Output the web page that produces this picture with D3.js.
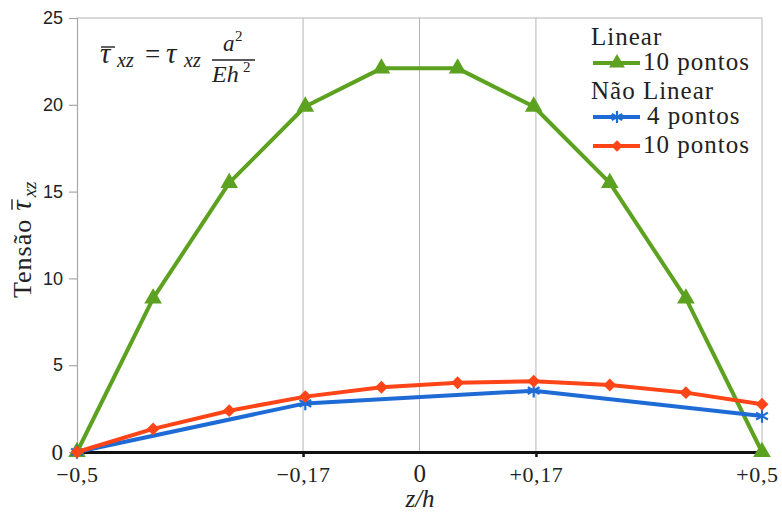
<!DOCTYPE html>
<html>
<head>
<meta charset="utf-8">
<script src="https://cdn.jsdelivr.net/npm/d3@7"></script>
</head>
<body style="margin:0">
<svg id="chart" width="782" height="516" style="display:block;background:#fff"></svg>
<script>
// Normalised thickness coordinate z/h
const zLinear10 = [-0.5, -0.3889, -0.2778, -0.1667, -0.0556, 0.0556, 0.1667, 0.2778, 0.3889, 0.5];
const zNonLinear4 = [-0.5, -0.1667, 0.1667, 0.5];
const zNonLinear10 = zLinear10;

// Shear stress values
const tauLinear10 = [0, 8.85, 15.5, 19.9, 22.1, 22.1, 19.9, 15.5, 8.85, 0];
const tauNonLinear4 = [0, 2.8, 3.53, 2.07];
const tauNonLinear10 = [0, 1.33, 2.38, 3.19, 3.73, 3.99, 4.08, 3.86, 3.42, 2.75];

// Axis ticks
const xTickValues = [-0.5, -0.17, 0, 0.17, 0.5];
const xTickLabels = ["\u22120,5", "\u22120,17", "0", "+0,17", "+0,5"];
const yTickValues = [0, 5, 10, 15, 20, 25];
const gridValues = [-0.17, 0, 0.17, 0.5];

const colors = { green: "#5ca11f", blue: "#1e6bd6", orange: "#ff4517" };
const fontNames = ["Liberation Serif", "Liberation Sans"];
const SERIF = `"${fontNames[0]}"`;
const SANS = `"${fontNames[1]}"`;

const svg = d3.select("#chart");
const x = d3.scaleLinear().domain([-0.5, 0.5]).range([77, 762]);
const y = d3.scaleLinear().domain([0, 25]).range([452, 18]);

// Text helper with explicit typography
function label(parent, px, py, str, size, opts = {}) {
  return parent.append("text").attr("x", px).attr("y", py)
    .style("font-family", opts.sans ? SANS : SERIF)
    .style("font-size", size + "px")
    .style("font-style", opts.italic ? "italic" : "normal")
    .style("letter-spacing", (opts.spacing || 0) + "px")
    .attr("fill", "#222")
    .attr("text-anchor", opts.anchor || "start")
    .text(str);
}

// Grid lines and frame
svg.append("g").selectAll("line").data(gridValues).join("line")
  .attr("x1", d => x(d)).attr("x2", d => x(d))
  .attr("y1", y(25)).attr("y2", y(0))
  .attr("stroke", "#b4b4b4").attr("stroke-width", 1);
svg.append("line")
  .attr("x1", x(-0.5)).attr("x2", x(0.5)).attr("y1", y(25)).attr("y2", y(25))
  .attr("stroke", "#b4b4b4").attr("stroke-width", 1);

// Left axis
const yAxis = d3.axisLeft(y).tickValues(yTickValues).tickSize(8).tickPadding(6)
  .tickFormat(d3.format("d"));
const gy = svg.append("g").attr("transform", `translate(${x(-0.5)},0)`).call(yAxis);
gy.select(".domain").attr("stroke", "#a8a8a8").attr("stroke-width", 1.2);
gy.selectAll(".tick line").attr("stroke", "#a8a8a8").attr("stroke-width", 1.2);
gy.selectAll(".tick text")
  .style("font-family", d => d === 0 ? SERIF : SANS)
  .style("font-size", d => d === 0 ? "23px" : "18px")
  .attr("fill", "#222");
gy.selectAll(".tick").filter(d => d === 0).select("line").remove();

// Bottom axis
const xAxis = d3.axisBottom(x).tickValues(xTickValues).tickSize(5)
  .tickFormat((d, i) => xTickLabels[i]);
const gx = svg.append("g").attr("transform", `translate(0,${y(0)})`).call(xAxis);
gx.select(".domain").attr("stroke", "#111").attr("stroke-width", 3);
gx.selectAll(".tick line")
  .attr("stroke", d => (d === -0.17 || d === 0.17) ? "#111" : "none")
  .attr("stroke-width", 2.5);
gx.selectAll(".tick text")
  .attr("y", 30).attr("dy", null)
  .attr("x", d => d === 0.5 ? -5 : 0)
  .style("font-family", SERIF).style("font-size", d => d === 0 ? "25px" : "22px")
  .style("letter-spacing", "0.6px")
  .attr("fill", "#222");

// Axis titles
label(svg, 420, 507, "z/h", 25, { italic: true, anchor: "middle" });

const yTitle = svg.append("g").attr("transform", "translate(31,298) rotate(-90)");
const yt = yTitle.append("text").attr("fill", "#222")
  .style("font-family", SERIF).style("font-size", "26px");
yt.append("tspan").style("letter-spacing", "1px").text("Tensão");
yt.append("tspan").attr("dx", 8).style("font-style", "italic").style("font-size", "29px").text("τ");
yt.append("tspan").attr("dx", 3).attr("dy", 5).style("font-style", "italic").style("font-size", "19px").text("xz");
{
  const node = yt.node();
  const i = "Tensão".length;
  const p0 = node.getStartPositionOfChar(i);
  const p1 = node.getEndPositionOfChar(i);
  yTitle.append("line").attr("x1", p0.x + 1).attr("x2", p1.x + 1)
    .attr("y1", -19).attr("y2", -19).attr("stroke", "#222").attr("stroke-width", 1.4);
}

// Formula annotation
const f = svg.append("g");
label(f, 100, 63, "τ", 29, { italic: true });
f.append("line").attr("x1", 101).attr("x2", 115).attr("y1", 47).attr("y2", 47).attr("stroke", "#222").attr("stroke-width", 1.4);
label(f, 117, 67, "xz", 20, { italic: true });
label(f, 145, 63, "=", 27);
label(f, 166, 63, "τ", 29, { italic: true });
label(f, 184, 67, "xz", 20, { italic: true });
label(f, 223, 51, "a", 23, { italic: true });
label(f, 235, 41, "2", 15);
f.append("line").attr("x1", 212).attr("x2", 255).attr("y1", 60).attr("y2", 60).attr("stroke", "#222").attr("stroke-width", 1.3);
label(f, 212, 82, "Eh", 24, { italic: true });
label(f, 243, 72, "2", 15);

// Series
const line = d3.line().x(d => x(d[0])).y(d => y(d[1]));
const series = [
  { key: "lin10", z: zLinear10, v: tauLinear10, color: colors.green, sym: d3.symbolTriangle, size: 135 },
  { key: "nl10", z: zNonLinear10, v: tauNonLinear10, color: colors.orange, sym: d3.symbolDiamond2, size: 105 },
  { key: "nl4", z: zNonLinear4, v: tauNonLinear4, color: colors.blue, sym: d3.symbolAsterisk, size: 130 }
];
const order = [series[0], series[2], series[1]];
order.forEach(s => {
  const pts = s.z.map((z, i) => [z, s.v[i]]);
  svg.append("path").datum(pts).attr("d", line)
    .attr("fill", "none").attr("stroke", s.color).attr("stroke-width", 4)
    .attr("stroke-linejoin", "round");
  svg.append("g").selectAll("path").data(pts).join("path")
    .attr("transform", d => `translate(${x(d[0])},${y(d[1])})`)
    .attr("d", d3.symbol().type(s.sym).size(s.size))
    .attr("fill", s.sym === d3.symbolAsterisk ? "none" : s.color)
    .attr("stroke", s.color)
    .attr("stroke-width", s.sym === d3.symbolAsterisk ? 2.2 : 0);
});

// Legend
const lg = svg.append("g");
label(lg, 591, 45, "Linear", 25, { spacing: 1 });
label(lg, 591, 99, "Não Linear", 25, { spacing: 1 });
const legendItems = [
  { s: series[0], y: 63, ty: 70, label: "10 pontos", tx: 643 },
  { s: series[2], y: 117, ty: 124, label: "4 pontos", tx: 647 },
  { s: series[1], y: 146, ty: 153, label: "10 pontos", tx: 643 }
];
legendItems.forEach(it => {
  lg.append("line").attr("x1", 593).attr("x2", 640).attr("y1", it.y).attr("y2", it.y)
    .attr("stroke", it.s.color).attr("stroke-width", 4);
  lg.append("path")
    .attr("transform", `translate(617,${it.y})`)
    .attr("d", d3.symbol().type(it.s.sym).size(it.s.size * 0.8))
    .attr("fill", it.s.sym === d3.symbolAsterisk ? "none" : it.s.color)
    .attr("stroke", it.s.color)
    .attr("stroke-width", it.s.sym === d3.symbolAsterisk ? 2.2 : 0);
  label(lg, it.tx, it.ty, it.label, 25, { spacing: 1 });
});
</script>
</body>
</html>
